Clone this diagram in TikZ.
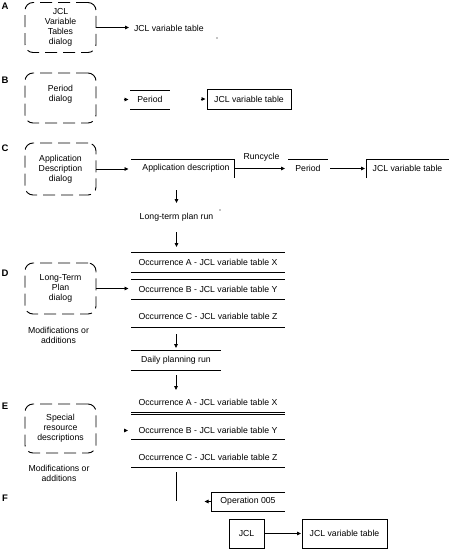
\documentclass[tikz,border=0pt]{standalone}
\usepackage{fontspec}
\setmainfont{Liberation Sans}
\usetikzlibrary{arrows.meta}
\begin{document}
\begin{tikzpicture}[x=1pt,y=-1pt, line width=0.8pt,
  txt/.style={font=\fontsize{8.7}{10}\selectfont, inner sep=0pt, outer sep=0pt, minimum height=10pt, align=center},
  dlg/.style={txt, draw, line width=0.9pt, dash pattern=on 12pt off 6pt, rounded corners=8pt, minimum width=71pt},
  letter/.style={font=\fontsize{9.5}{10}\selectfont\bfseries, inner sep=0pt},
  arr/.style={-{Triangle[length=4pt,width=3.6pt]}}]
\useasboundingbox (0,0) rectangle (451,549);

% section letters
\node[letter] (LA) at (5,6.5) {A};
\node[letter] (LB) at (5,80) {B};
\node[letter] (LC) at (5,148.5) {C};
\node[letter] (LD) at (5,273.5) {D};
\node[letter] (LE) at (5,406) {E};
\node[letter] (LF) at (5,498.5) {F};

% A
\node[dlg, minimum height=50pt] (dlgA) at (60.5,27.5) {JCL\\Variable\\Tables\\dialog};
\node[txt, anchor=west] (jclA) at (134,28) {JCL variable table};
\draw[arr, shorten >=5pt] (dlgA.east) -- (dlgA.east -| jclA.west);
\fill (217,38) circle (0.7pt);

% B
\node[dlg, minimum height=50pt] (dlgB) at (60.5,98) {Period\\dialog\\\mbox{}};
\node[txt, minimum width=40pt, minimum height=19pt] (perB) at (150,99.5) {Period};
\draw (perB.north west) -- (perB.north east) (perB.south west) -- (perB.south east);
\coordinate (hB1) at (123.5,99.5);
\draw[arr, shorten >=1.5pt] (hB1) -- (perB.west);
\node[txt, draw, minimum width=84pt, minimum height=20pt] (jclB) at (249,99) {JCL variable table};
\coordinate (hB2) at (200.5,99);
\draw[arr, shorten >=1.5pt] (hB2) -- (jclB.west);

% C
\node[dlg, minimum height=52pt] (dlgC) at (60.5,169) {Application\\Description\\dialog};
\node[txt, minimum width=103pt, minimum height=19pt] (appC) at (182.5,168.5) {\hspace*{7pt}Application description};
\draw (appC.north west) -- (appC.north east) -- (appC.south east);
\draw[arr, shorten >=2.5pt] (dlgC.east) -- (dlgC.east -| appC.west);
\node[txt, minimum width=40pt, minimum height=19pt] (perC) at (308,168.5) {Period};
\draw (perC.north west) -- (perC.north east);
\draw[arr, shorten >=3pt] (appC.east) -- (perC.west);
\node[txt] (run) at (261.5,157) {Runcycle};
\node[txt, minimum width=83pt, minimum height=19pt] (jclC) at (407.5,168.5) {JCL variable table};
\draw (jclC.south west) -- (jclC.north west) -- (jclC.north east);
\draw[arr, shorten <=2pt, shorten >=1pt] (perC.east) -- (jclC.west);
\node[txt, minimum width=100pt] (ltp) at (176.5,217) {Long-term plan run};
\draw[arr, shorten <=12pt, shorten >=9pt] (ltp.north |- appC.south) -- (ltp.north);
\fill (220,210) circle (0.7pt);

% D
\node[txt, minimum width=154pt] (occDA) at (208,262) {Occurrence A - JCL variable table X};
\node[txt, minimum width=154pt] (occDB) at (208,289) {Occurrence B - JCL variable table Y};
\node[txt, minimum width=154pt] (occDC) at (208,316) {Occurrence C - JCL variable table Z};
\draw (131,252) -- (285,252) (131,272) -- (285,272) (131,279) -- (285,279)
      (131,299) -- (285,299) (131,327) -- (285,327);
\draw[arr, shorten <=10pt, shorten >=10pt] (ltp.south) -- (ltp.south |- occDA.north);
\node[dlg, minimum height=51pt] (dlgD) at (60.5,288.5) {Long-Term\\Plan\\dialog};
\draw[arr, shorten >=2.5pt] (dlgD.east) -- (dlgD.east -| occDB.west);
\node[txt] (modD) at (58.5,335.5) {Modifications or\\additions};
\node[txt, minimum width=90pt] (daily) at (176,360) {Daily planning run};
\draw (131,350) -- (221,350) (131,370) -- (221,370);
\draw[arr, shorten <=13pt, shorten >=7pt] (daily.north |- occDC.south) -- (daily.north);

% E
\node[txt, minimum width=154pt] (occEA) at (208,402) {Occurrence A - JCL variable table X};
\node[txt, minimum width=154pt] (occEB) at (208,430.5) {Occurrence B - JCL variable table Y};
\node[txt, minimum width=154pt] (occEC) at (208,457) {Occurrence C - JCL variable table Z};
\draw (131,412) -- (285,412) (131,414) -- (285,414) (131,439) -- (285,439) (131,467) -- (285,467);
\draw[arr, shorten <=10pt, shorten >=7pt] (daily.south) -- (daily.south |- occEA.north);
\node[dlg, minimum height=49pt] (dlgE) at (60.5,428.5) {Special\\resource\\descriptions};
\coordinate (hE) at (123.5,430.5);
\draw[arr, shorten >=3pt] (hE) -- (occEB.west);
\node[txt] (modE) at (59,473) {Modifications or\\additions};

% F
\coordinate (fEnd) at (176,501);
\draw[shorten <=10pt] (fEnd |- occEC.south) -- (fEnd);
\node[txt, minimum width=74pt, minimum height=19pt] (op) at (248,501.5) {Operation 005};
\draw (op.north east) -- (op.north west) -- (op.south west) -- (op.south east);
\coordinate (opTip) at (204.5,501.5);
\draw[arr] (op.west) -- (opTip);
\node[txt, draw, minimum width=35pt, minimum height=29pt] (jcl) at (246.5,533.5) {JCL};
\node[txt, draw, minimum width=85pt, minimum height=29pt] (jclF) at (344.5,533.5) {JCL variable table};
\draw[arr, shorten >=1pt] (jcl) -- (jclF);
\end{tikzpicture}
\end{document}
